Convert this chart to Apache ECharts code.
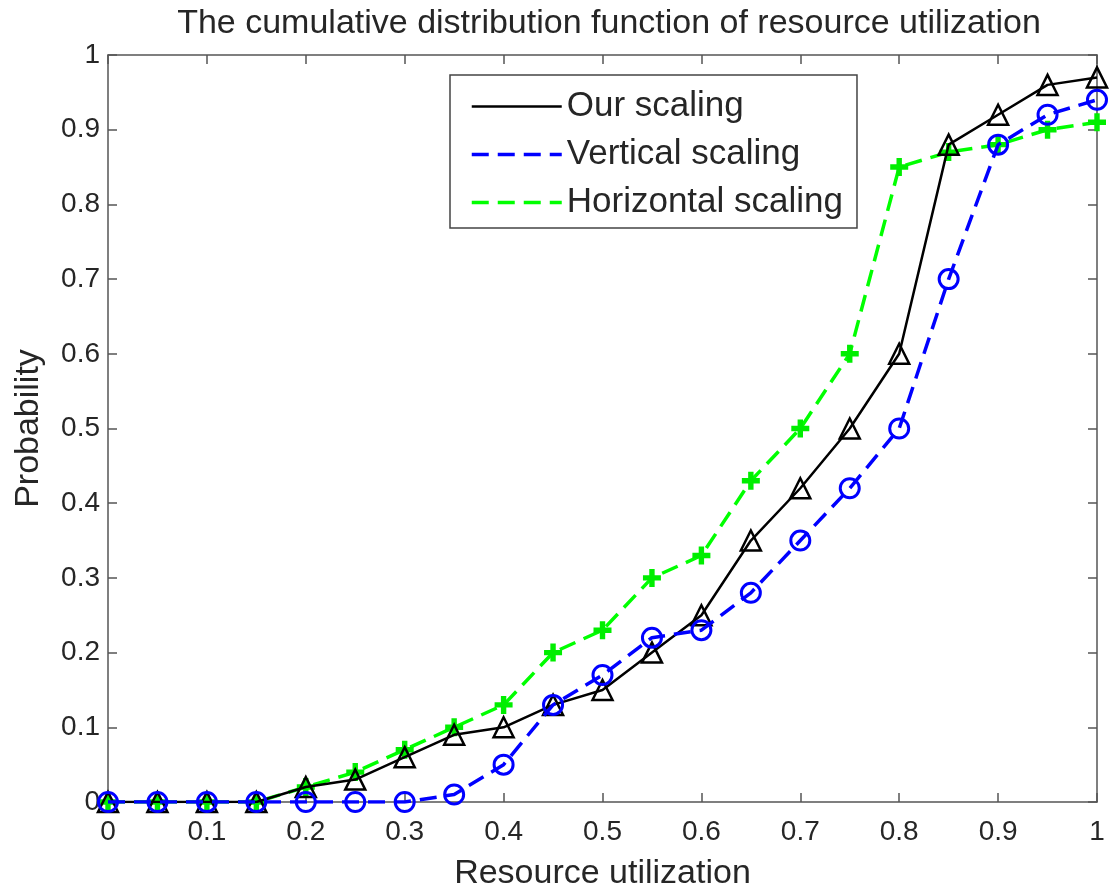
<!DOCTYPE html>
<html>
<head>
<meta charset="utf-8">
<script src="https://cdn.jsdelivr.net/npm/echarts@6/dist/echarts.min.js"></script>
<style>html,body{margin:0;padding:0;background:#fff}#c{width:1111px;height:892px}</style>
</head>
<body>
<div id="c"></div>
<script>
const xValues = [0,0.05,0.1,0.15,0.2,0.25,0.3,0.35,0.4,0.45,0.5,0.55,0.6,0.65,0.7,0.75,0.8,0.85,0.9,0.95,1];
const ourScaling = [0,0,0,0,0.02,0.03,0.06,0.09,0.1,0.13,0.15,0.2,0.25,0.35,0.42,0.5,0.6,0.88,0.92,0.96,0.97];
const verticalScaling = [0,0,0,0,0,0,0,0.01,0.05,0.13,0.17,0.22,0.23,0.28,0.35,0.42,0.5,0.7,0.88,0.92,0.94];
const horizontalScaling = [0,0,0,0,0.02,0.04,0.07,0.1,0.13,0.2,0.23,0.3,0.33,0.43,0.5,0.6,0.85,0.87,0.88,0.9,0.91];
const seriesNames = ['Our scaling','Vertical scaling','Horizontal scaling'];

const pair = arr => xValues.map((x,i)=>[x,arr[i]]);
const txt = '#262626';
const axisCol = '#555';
const font = 'Liberation Sans, Arial, sans-serif';
const plusPath = 'path://M3.5,0 H6.5 V3.5 H10 V6.5 H6.5 V10 H3.5 V6.5 H0 V3.5 H3.5 Z';

const chart = echarts.init(document.getElementById('c'), null, {renderer:'canvas'});
const axisBase = {
  type:'value', min:0, max:1, interval:0.1,
  axisLine:{show:true, onZero:false, lineStyle:{color:axisCol, width:1.5}},
  axisTick:{show:true, inside:true, length:9, lineStyle:{color:axisCol, width:1.5}},
  splitLine:{show:false},
  axisLabel:{color:txt, fontSize:28, fontFamily:font, formatter: v => String(Math.round(v*10)/10)}
};
chart.setOption({
  animation:false,
  backgroundColor:'#fff',
  title:{text:'The cumulative distribution function of resource utilization', left:604, top:2, textAlign:'center',
    textStyle:{color:txt, fontSize:34, fontWeight:'normal', fontFamily:font}},
  grid:{left:108, right:14, top:55, bottom:90, containLabel:false, outerBoundsMode:'none'},
  legend:{
    orient:'vertical', left:450, top:75,
    data:seriesNames.map((n,i)=>({name:n, lineStyle:{width:i===0?2.5:3.5}})),
    itemWidth:90, itemHeight:20, itemGap:13,
    padding:[14,14,8,20],
    borderColor:'#444', borderWidth:1.5, borderRadius:0, backgroundColor:'#fff',
    textStyle:{color:txt, fontSize:35, fontFamily:font},
    itemStyle:{opacity:0}
  },
  xAxis:[
    Object.assign({}, axisBase, {position:'bottom', name:'Resource utilization', nameLocation:'middle', nameGap:55,
      nameTextStyle:{color:txt, fontSize:34, fontFamily:font}, axisLabel:Object.assign({}, axisBase.axisLabel, {margin:16})}),
    Object.assign({}, axisBase, {position:'top', axisLabel:{show:false}})
  ],
  yAxis:[
    Object.assign({}, axisBase, {position:'left', name:'Probability', nameLocation:'middle', nameGap:62,
      nameTextStyle:{color:txt, fontSize:34, fontFamily:font}, axisLabel:Object.assign({}, axisBase.axisLabel, {margin:8})}),
    Object.assign({}, axisBase, {position:'right', axisLabel:{show:false}})
  ],
  series:[
    {name:seriesNames[0], type:'line', data:pair(ourScaling), symbol:'triangle', symbolSize:20,
      lineStyle:{color:'#000', width:2.5, type:'solid'},
      itemStyle:{color:'rgba(255,255,255,0)', borderColor:'#000', borderWidth:2.5}, z:3},
    {name:seriesNames[1], type:'line', data:pair(verticalScaling), symbol:'circle', symbolSize:19,
      lineStyle:{color:'#0000ff', width:3.5, type:[17,9]},
      itemStyle:{color:'rgba(255,255,255,0)', borderColor:'#0000ff', borderWidth:3}, z:4},
    {name:seriesNames[2], type:'line', data:pair(horizontalScaling), symbol:plusPath, symbolSize:18,
      lineStyle:{color:'#00ff00', width:3.5, type:[17,9]},
      itemStyle:{color:'#00ee00', borderWidth:0}, z:2}
  ]
});
</script>
</body>
</html>
